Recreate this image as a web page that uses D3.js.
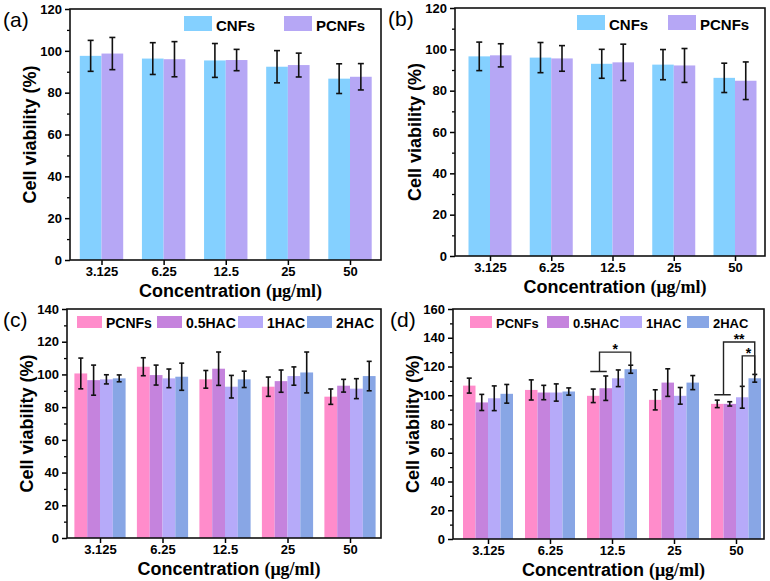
<!DOCTYPE html>
<html>
<head>
<meta charset="utf-8">
<script src="https://cdn.jsdelivr.net/npm/d3@7"></script>
<style>
  body { margin: 0; background: #fff; }
  svg { display: block; font-family: "Liberation Sans", Arial, sans-serif; }
  .tick text { font-weight: bold; }
</style>
</head>
<body>
<svg id="chart" width="770" height="581"></svg>
<script>
// categories (concentration, ug/ml)
var cats = ["3.125", "6.25", "12.5", "25", "50"];

var yTicksAB = [0, 20, 40, 60, 80, 100, 120];
var yTicksC = [0, 20, 40, 60, 80, 100, 120, 140];
var yTicksD = [0, 20, 40, 60, 80, 100, 120, 140, 160];

// (a)
var a_CNFs = [97.6, 96.3, 95.4, 92.4, 86.7];
var a_CNFs_sd = [7.4, 7.6, 8.1, 7.7, 7.1];
var a_PCNFs = [98.7, 96.0, 95.6, 93.2, 87.6];
var a_PCNFs_sd = [7.7, 8.4, 5.1, 5.7, 6.3];

// (b)
var b_CNFs = [96.6, 96.0, 93.0, 92.6, 86.2];
var b_CNFs_sd = [6.9, 7.3, 7.0, 7.3, 7.1];
var b_PCNFs = [97.1, 95.6, 93.7, 92.2, 84.8];
var b_PCNFs_sd = [5.6, 6.2, 8.8, 8.2, 9.1];

// (c)
var c_PCNFs = [100.6, 104.7, 97.0, 92.5, 86.4];
var c_PCNFs_sd = [9.4, 5.5, 5.4, 5.9, 4.7];
var c_05HAC = [96.5, 99.6, 103.5, 95.9, 93.1];
var c_05HAC_sd = [9.2, 6.1, 10.2, 6.8, 3.9];
var c_1HAC = [97.0, 97.6, 92.5, 99.0, 91.3];
var c_1HAC_sd = [2.8, 5.7, 6.9, 5.6, 6.1];
var c_2HAC = [97.6, 98.6, 97.0, 101.2, 99.0];
var c_2HAC_sd = [2.1, 8.3, 5.0, 12.5, 9.0];

// (d)
var d_PCNFs = [106.7, 103.7, 99.6, 96.8, 94.0];
var d_PCNFs_sd = [5.2, 7.0, 4.7, 7.0, 2.6];
var d_05HAC = [95.0, 101.9, 104.9, 108.8, 94.0];
var d_05HAC_sd = [5.6, 5.0, 8.5, 9.6, 1.5];
var d_1HAC = [97.9, 101.9, 111.8, 99.6, 98.6];
var d_1HAC_sd = [8.6, 6.0, 5.8, 5.8, 7.6];
var d_2HAC = [101.0, 102.6, 118.1, 108.8, 111.8];
var d_2HAC_sd = [6.5, 2.5, 2.8, 4.9, 2.7];

// significance brackets in (d): y values in data units
var d_sig = [
  {cat: "12.5", left: ["PCNFs", "0.5HAC"], right: "2HAC", y0: 116.5, y1: 121, top: 130, label: "*"},
  {cat: "50", left: ["PCNFs", "0.5HAC"], right: "2HAC", y0: 100.3, y1: 113, top: 137, label: "**"},
  {cat: "50", left: ["1HAC"], right: "2HAC", y0: 105.8, y1: 113, top: 127.4, label: "*"}
];

var svg = d3.select("#chart");

function drawPanel(p) {
  var g = svg.append("g");
  var y = d3.scaleLinear().domain([0, p.yMax]).range([p.bottom, p.top]);
  var x = d3.scalePoint().domain(cats).range(p.centers);
  var n = p.series.length;
  var xs = d3.scaleBand().domain(p.series).range([-n * p.barW / 2, n * p.barW / 2]);

  // bars
  p.series.forEach(function(s, si) {
    var rows = cats.map(function(c, i) { return {c: c, v: p.means[si][i], e: p.sds[si][i]}; });
    g.selectAll(null).data(rows).enter().append("rect")
      .attr("x", function(d) { return x(d.c) + xs(s); })
      .attr("y", function(d) { return y(d.v); })
      .attr("width", xs.bandwidth())
      .attr("height", function(d) { return y(0) - y(d.v); })
      .attr("fill", p.colors[si]);
  });

  // error bars
  p.series.forEach(function(s, si) {
    var rows = cats.map(function(c, i) { return {c: c, v: p.means[si][i], e: p.sds[si][i]}; });
    var eb = g.selectAll(null).data(rows).enter().append("g")
      .attr("stroke", "#111").attr("stroke-width", 1.6);
    var cx = function(d) { return x(d.c) + xs(s) + xs.bandwidth() / 2; };
    eb.append("line")
      .attr("x1", cx).attr("x2", cx)
      .attr("y1", function(d) { return y(d.v - d.e); })
      .attr("y2", function(d) { return y(d.v + d.e); });
    [-1, 1].forEach(function(k) {
      eb.append("line")
        .attr("x1", function(d) { return cx(d) - p.capW / 2; })
        .attr("x2", function(d) { return cx(d) + p.capW / 2; })
        .attr("y1", function(d) { return y(d.v + k * d.e); })
        .attr("y2", function(d) { return y(d.v + k * d.e); });
    });
  });

  // axes
  var minor = d3.range(p.yMax / 20).map(function(i) { return i * 20 + 10; });
  g.append("g").attr("transform", "translate(" + p.left + ",0)")
    .call(d3.axisLeft(y).tickValues(minor).tickFormat("").tickSize(3).tickSizeOuter(0))
    .call(function(a) { a.select(".domain").remove(); a.selectAll("line").attr("stroke-width", 1.3); });
  g.append("g").attr("transform", "translate(" + p.left + ",0)")
    .call(d3.axisLeft(y).tickValues(p.yTicks).tickSize(5).tickSizeOuter(0).tickPadding(3))
    .call(function(a) {
      a.select(".domain").remove();
      a.selectAll("line").attr("stroke-width", 1.5);
      a.selectAll("text").attr("font-size", 13).attr("fill", "#000")
        .attr("font-family", "Liberation Sans, Arial, sans-serif");
    });
  g.append("g").attr("transform", "translate(0," + p.bottom + ")")
    .call(d3.axisBottom(x).tickSize(5).tickSizeOuter(0).tickPadding(2))
    .call(function(a) {
      a.select(".domain").remove();
      a.selectAll("line").attr("stroke-width", 1.5);
      a.selectAll("text").attr("font-size", 13).attr("fill", "#000")
        .attr("font-family", "Liberation Sans, Arial, sans-serif");
    });

  // frame
  g.append("rect")
    .attr("x", p.left).attr("y", p.top)
    .attr("width", p.right - p.left).attr("height", p.bottom - p.top)
    .attr("fill", "none").attr("stroke", "#111").attr("stroke-width", 1.6);

  // axis titles
  var xt = g.append("text")
    .attr("x", (p.left + p.right) / 2 + 5).attr("y", p.bottom + 37)
    .attr("text-anchor", "middle").attr("font-size", 18).attr("font-weight", "bold");
  xt.append("tspan").text("Concentration ");
  xt.append("tspan").attr("font-family", "Liberation Serif, Times New Roman, serif")
    .attr("font-size", 18).text("(\u03bcg/ml)");

  g.append("text")
    .attr("transform", "translate(" + (p.left - 34) + "," + ((p.top + p.bottom) / 2) + ") rotate(-90)")
    .attr("text-anchor", "middle").attr("font-size", 18).attr("font-weight", "bold")
    .text("Cell viability (%)");

  // panel label
  g.append("text")
    .attr("x", p.labelX).attr("y", p.top + 18)
    .attr("font-size", 21).text(p.label);

  // legend
  p.series.forEach(function(s, si) {
    var lx = p.legendX[si];
    g.append("rect")
      .attr("x", lx).attr("y", p.legendY - p.swH)
      .attr("width", p.swW).attr("height", p.swH)
      .attr("fill", p.colors[si]);
    g.append("text")
      .attr("x", lx + p.swW + 4).attr("y", p.legendY)
      .attr("font-size", p.legendFont).attr("font-weight", "bold")
      .text(s);
  });

  return {g: g, x: x, xs: xs, y: y};
}

var blue = "#84D0FF", lilac = "#B6A7F5";
var pink = "#FF8CCB", orchid = "#C583DD", lav = "#B6AAF9", corn = "#88A6E5";

drawPanel({
  label: "(a)", labelX: 3, left: 70, right: 381, top: 9, bottom: 260, centers: [101.5, 350],
  yMax: 120, yTicks: yTicksAB, barW: 21.7, capW: 6,
  series: ["CNFs", "PCNFs"], means: [a_CNFs, a_PCNFs], sds: [a_CNFs_sd, a_PCNFs_sd],
  colors: [blue, lilac], legendX: [184, 284], legendY: 31, swW: 28, swH: 15, legendFont: 15
});

drawPanel({
  label: "(b)", labelX: 388, left: 455, right: 765, top: 8, bottom: 256, centers: [490, 735],
  yMax: 120, yTicks: yTicksAB, barW: 21.5, capW: 6,
  series: ["CNFs", "PCNFs"], means: [b_CNFs, b_PCNFs], sds: [b_CNFs_sd, b_PCNFs_sd],
  colors: [blue, lilac], legendX: [577, 668], legendY: 30, swW: 28, swH: 15, legendFont: 15
});

drawPanel({
  label: "(c)", labelX: 3, left: 67, right: 381, top: 309, bottom: 538, centers: [100, 350],
  yMax: 140, yTicks: yTicksC, barW: 12.8, capW: 5,
  series: ["PCNFs", "0.5HAC", "1HAC", "2HAC"],
  means: [c_PCNFs, c_05HAC, c_1HAC, c_2HAC], sds: [c_PCNFs_sd, c_05HAC_sd, c_1HAC_sd, c_2HAC_sd],
  colors: [pink, orchid, lav, corn], legendX: [77, 157, 238, 307], legendY: 328, swW: 25, swH: 12, legendFont: 14
});

var pd = drawPanel({
  label: "(d)", labelX: 390, left: 453, right: 764, top: 309, bottom: 539, centers: [488, 736],
  yMax: 160, yTicks: yTicksD, barW: 12.5, capW: 5,
  series: ["PCNFs", "0.5HAC", "1HAC", "2HAC"],
  means: [d_PCNFs, d_05HAC, d_1HAC, d_2HAC], sds: [d_PCNFs_sd, d_05HAC_sd, d_1HAC_sd, d_2HAC_sd],
  colors: [pink, orchid, lav, corn], legendX: [470, 547, 620, 687], legendY: 328, swW: 22, swH: 12, legendFont: 13
});

// significance brackets
function barC(cat, s) { return pd.x(cat) + pd.xs(s) + pd.xs.bandwidth() / 2; }
d_sig.forEach(function(b) {
  var l0 = barC(b.cat, b.left[0]), l1 = barC(b.cat, b.left[b.left.length - 1]);
  var lm = (l0 + l1) / 2, r = barC(b.cat, b.right);
  var path = "";
  if (b.left.length > 1) path += "M" + (l0 - 3) + "," + pd.y(b.y0) + "H" + (l1 + 1);
  path += "M" + lm + "," + pd.y(b.y0) + "V" + pd.y(b.top) + "H" + r + "V" + pd.y(b.y1);
  pd.g.append("path").attr("d", path).attr("fill", "none")
    .attr("stroke", "#222").attr("stroke-width", 1.4);
  pd.g.append("text")
    .attr("x", (lm + r) / 2).attr("y", pd.y(b.top) + 2)
    .attr("text-anchor", "middle").attr("font-size", 14).attr("font-weight", "bold")
    .text(b.label);
});
</script>
</body>
</html>
